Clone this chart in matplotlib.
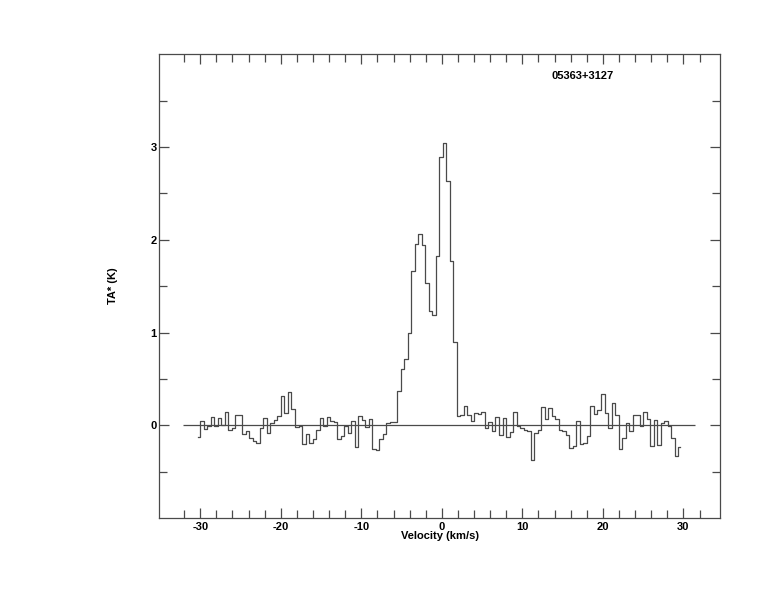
import numpy as np
import matplotlib
matplotlib.use("Agg")
import matplotlib.pyplot as plt
from matplotlib.ticker import FixedLocator

plt.rcParams['font.family'] = ['Liberation Sans', 'DejaVu Sans']
plt.rcParams['font.weight'] = 'bold'
plt.rcParams['axes.unicode_minus'] = False

source_name = "05363+3127"

# channel grid of the spectrum (km/s)
v_start = -30.25
dv = 0.4368

# antenna temperature per channel (K)
ta = [
    -0.13, 0.043, -0.043, -0.004, 0.086, -0.01, 0.075, 0.0, 0.14, -0.054,
    -0.03, 0.108, 0.108, -0.097, -0.065, -0.137, -0.17, -0.19, -0.03, 0.075,
    -0.08, 0.025, 0.06, 0.097, 0.32, 0.137, 0.356, 0.176, -0.02, -0.01,
    -0.205, -0.094, -0.19, -0.15, -0.054, 0.075, -0.01, 0.086, 0.05, 0.04,
    -0.15, -0.115, -0.01, -0.083, 0.043, -0.237, 0.097, 0.06, -0.02, 0.065,
    -0.255, -0.266, -0.15, -0.097, 0.025, 0.032, 0.04, 0.367, 0.607, 0.715,
    0.996, 1.668, 1.956, 2.064, 1.945, 1.535, 1.237, 1.194, 1.82, 2.892,
    3.04, 2.633, 1.776, 0.896, 0.1, 0.108, 0.205, 0.115, 0.043, 0.133,
    0.12, 0.14, -0.03, 0.03, -0.065, 0.086, -0.11, 0.083, -0.126, -0.075,
    0.14, -0.01, -0.03, -0.05, -0.06, -0.37, -0.083, -0.054, 0.194, 0.072,
    0.187, 0.104, 0.068, -0.05, -0.06, -0.104, -0.245, -0.227, 0.043, -0.2,
    -0.19, -0.115, 0.205, 0.12, 0.162, 0.335, 0.133, -0.03, 0.237, 0.111,
    -0.255, -0.14, 0.02, -0.06, 0.108, 0.108, -0.004, 0.14, 0.065, -0.227,
    0.054, -0.216, 0.025, 0.043, -0.01, -0.14, -0.335, -0.237,
]

# extent of the zero baseline (km/s)
base_lo = -32.15
base_hi = 31.4

# tick positions
x_major = [-30, -20, -10, 0, 10, 20, 30]
x_minor = [-32, -28, -26, -24, -22, -18, -16, -14, -12, -8, -6, -4, -2,
           2, 4, 6, 8, 12, 14, 16, 18, 22, 24, 26, 28, 32]
y_major = [0, 1, 2, 3]
y_minor = [-0.5, 0.5, 1.5, 2.5, 3.5]

vel = v_start + dv * np.arange(len(ta))

line_col = '#4a4a4a'

fig = plt.figure(figsize=(7.74, 6.12), dpi=100)
ax = fig.add_axes([0.2058, 0.1536, 0.7242, 0.7577])

ax.step(vel, ta, where='mid', color=line_col, lw=0.9)
ax.hlines(0, base_lo, base_hi, color=line_col, lw=0.9)

ax.set_xlim(-35.09, 34.52)
ax.set_ylim(-1.0, 4.0)

ax.xaxis.set_major_locator(FixedLocator(x_major))
ax.xaxis.set_minor_locator(FixedLocator(x_minor))
ax.yaxis.set_major_locator(FixedLocator(y_major))
ax.yaxis.set_minor_locator(FixedLocator(y_minor))

ax.tick_params(which='both', direction='in', top=True, right=True,
               color=line_col, width=0.9, labelsize=8)
ax.tick_params(which='major', length=7)
ax.tick_params(which='minor', length=6)
ax.tick_params(axis='x', pad=3)
ax.tick_params(axis='y', pad=2)
for sp in ax.spines.values():
    sp.set_color(line_col)
    sp.set_linewidth(0.9)

ax.set_xlabel("Velocity (km/s)", fontsize=8, fontweight='bold')
ax.set_ylabel("TA* (K)", fontsize=8, fontweight='bold')
ax.xaxis.set_label_coords(0.5, -0.039)
ax.yaxis.set_label_coords(-0.0826, 0.502)
ax.xaxis.label.set_va('center')
ax.yaxis.label.set_va('center')

ax.text(0.756, 0.953, source_name, transform=ax.transAxes, ha='center',
        va='center', fontsize=8, fontweight='bold')

plt.savefig('out.png', dpi=100)
